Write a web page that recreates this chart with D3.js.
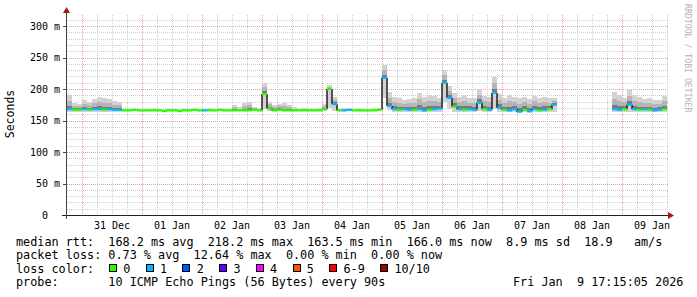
<!DOCTYPE html>
<html>
<head>
<meta charset="utf-8">
<style>
  body { margin: 0; background: #fff; }
  svg text { font-family: "DejaVu Sans Mono", monospace; white-space: pre; }
</style>
</head>
<body>
<svg id="chart" width="697" height="297"></svg>
<script src="https://cdn.jsdelivr.net/npm/d3@7"></script>
<script>
  // one value per 2 hour bucket, first bucket starts 30 Dec 18:00
  var start = new Date(2025, 11, 30, 18);
  var end = new Date(2026, 0, 9, 18);

  // median rtt (ms)
  var median = [
    168, 167, 167, 168, 167, 168, 168, 167, 168, 167,
    167, 166, 166, 167, 166, 166, 166, 166, 166, 165,
    166, 166, 165, 166, 166, 167, 166, 166, 166, 166,
    167, 166, 166, 166, 166, 166, 166, 167, 166, 192,
    169, 166, 167, 166, 166, 166, 166, 166, 166, 166,
    166, 168, 200, 176, 166, 166, 167, 166, 166, 166,
    166, 166, 167, 218, 173, 168, 167, 168, 167, 167,
    168, 166, 167, 168, 169, 210, 186, 172, 168, 167,
    168, 167, 178, 168, 167, 194, 170, 167, 166, 168,
    164, 167, 165, 168, 166, 167, 168, 175, null, null,
    null, null, null, null, null, null, null, null, null, 168,
    167, 168, 175, 168, 167, 168, 167, 166, 167, 168
  ];

  // highest ping of the bucket (top of the smoke)
  var high = [
    190, 178, 176, 182, 180, 184, 187, 186, 184, 181,
    180, 169, 168, 169, 168, 168, 168, 169, 168, 168,
    169, 168, 168, 169, 168, 168, 168, 168, 170, 168,
    168, 169, 168, 175, 171, 178, 180, 172, 170, 210,
    180, 174, 177, 178, 175, 171, 169, 170, 169, 169,
    170, 176, 206, 188, 169, 170, 169, 168, 169, 168,
    168, 169, 170, 238, 195, 188, 186, 183, 184, 185,
    194, 188, 190, 189, 186, 230, 205, 194, 188, 190,
    185, 186, 200, 189, 187, 219, 192, 186, 190, 187,
    185, 188, 184, 189, 186, 188, 185, 186, null, null,
    null, null, null, null, null, null, null, null, null, 196,
    190, 186, 199, 190, 187, 184, 186, 182, 183, 189
  ];

  // lowest ping of the bucket
  var low = [
    164, 164, 163, 164, 164, 163, 163, 163, 164, 163,
    164, 165, 165, 165, 165, 165, 165, 165, 165, 165,
    165, 165, 165, 165, 165, 165, 165, 165, 165, 165,
    165, 165, 165, 165, 165, 165, 165, 165, 165, 168,
    165, 165, 165, 165, 165, 165, 165, 165, 165, 165,
    165, 165, 170, 165, 165, 165, 165, 165, 165, 165,
    165, 165, 165, 185, 166, 163, 163, 163, 163, 163,
    163, 163, 163, 163, 163, 180, 168, 164, 163, 163,
    163, 163, 165, 163, 163, 170, 164, 163, 163, 163,
    163, 163, 162, 163, 163, 163, 163, 164, null, null,
    null, null, null, null, null, null, null, null, null, 163,
    163, 163, 163, 163, 163, 163, 163, 163, 163, 163
  ];

  // lost pings out of 10
  var loss = [
    1, 0, 0, 1, 0, 1, 1, 0, 1, 1,
    1, 0, 0, 0, 0, 0, 0, 0, 0, 0,
    0, 0, 0, 0, 0, 0, 0, 1, 0, 0,
    0, 0, 0, 0, 0, 0, 0, 0, 0, 0,
    0, 0, 0, 0, 0, 0, 0, 0, 0, 0,
    0, 0, 0, 1, 0, 1, 1, 0, 0, 0,
    0, 0, 0, 1, 1, 1, 0, 1, 1, 0,
    1, 1, 0, 1, 1, 1, 1, 0, 1, 0,
    1, 1, 1, 0, 1, 1, 1, 0, 1, 1,
    1, 0, 1, 1, 0, 1, 0, 1, null, null,
    null, null, null, null, null, null, null, null, null, 1,
    1, 0, 1, 1, 0, 1, 0, 1, 1, 0
  ];

  var yTicks = [0, 50, 100, 150, 200, 250, 300];
  var lossLabels = ["0", "1", "2", "3", "4", "5", "6-9", "10/10"];
  var lossColors = ["#26ff00", "#00b8ff", "#0059ff", "#5e00ff", "#ff00ff", "#ff5500", "#ff0000", "#a10000"];
  var rttLine = "median rtt:  168.2 ms avg  218.2 ms max  163.5 ms min  166.0 ms now  8.9 ms sd  18.9   am/s";
  var lossLine = "packet loss: 0.73 % avg  12.64 % max  0.00 % min  0.00 % now";
  var probeLine = "probe:       10 ICMP Echo Pings (56 Bytes) every 90s";
  var stamp = "Fri Jan  9 17:15:05 2026";

  var svg = d3.select("#chart");
  var x = d3.scaleTime().domain([start, end]).range([67, 667]);
  var y = d3.scaleLinear().domain([0, 317.5]).range([215, 15]);
  function px(v) { return Math.round(v) + 0.5; }

  var minorCol = "#cfcfcf", majorCol = "#e7a3a3";

  // grid
  var grid = svg.append("g").attr("shape-rendering", "crispEdges").attr("stroke-dasharray", "1,1");
  var sixHours = d3.timeHour.every(6).range(start, new Date(+end + 1)).filter(function(d) { return +d !== +start; });
  grid.selectAll("line.v")
    .data(sixHours)
    .enter().append("line")
    .attr("x1", function(d) { return px(x(d)); })
    .attr("x2", function(d) { return px(x(d)); })
    .attr("y1", y.range()[1]).attr("y2", 215)
    .attr("stroke", function(d) { return d.getHours() === 0 ? majorCol : minorCol; });
  grid.selectAll("line.h")
    .data(d3.range(10, 317, 10))
    .enter().append("line")
    .attr("x1", 67).attr("x2", 668)
    .attr("y1", function(d) { return px(y(d)); })
    .attr("y2", function(d) { return px(y(d)); })
    .attr("stroke", function(d) { return d % 50 === 0 ? majorCol : minorCol; });

  // smoke, lighter far from the median
  var buckets = median.map(function(m, i) {
    return { t0: d3.timeHour.offset(start, 2 * i), t1: d3.timeHour.offset(start, 2 * i + 2),
             med: m, hi: high[i], lo: low[i], loss: loss[i] };
  }).filter(function(d) { return d.med !== null; });

  // [share of the spread above the median, colour, starts at low ping?]
  var bands = [[1, "#d2d2d2", true], [0.6, "#b4b4b4", false], [0.25, "#7a7a7a", false]];
  var smoke = svg.append("g").attr("shape-rendering", "crispEdges");
  bands.forEach(function(b) {
    smoke.append("g").selectAll("rect")
      .data(buckets)
      .enter().append("rect")
      .attr("x", function(d) { return Math.round(x(d.t0)); })
      .attr("width", function(d) { return Math.round(x(d.t1)) - Math.round(x(d.t0)); })
      .attr("y", function(d) { return Math.round(y(d.med + b[0] * (d.hi - d.med))); })
      .attr("height", function(d) {
        var bottom = b[2] ? d.lo : d.med;
        return Math.max(0, Math.round(y(bottom)) - Math.round(y(d.med + b[0] * (d.hi - d.med))));
      })
      .attr("fill", b[1]);
  });

  // median, coloured by loss
  function lossIndex(n) { return n <= 5 ? n : (n < 10 ? 6 : 7); }
  var medG = svg.append("g").attr("fill", "none");
  buckets.forEach(function(d, k) {
    var nxt = buckets[k + 1];
    if (nxt && +nxt.t0 === +d.t1 && Math.abs(nxt.med - d.med) > 2) {
      medG.append("line")
        .attr("x1", x(d.t1)).attr("x2", x(d.t1))
        .attr("y1", y(d.med)).attr("y2", y(nxt.med))
        .attr("stroke", "#222").attr("stroke-width", 1.5);
    }
  });
  medG.selectAll("line.m")
    .data(buckets)
    .enter().append("line")
    .attr("x1", function(d) { return x(d.t0); })
    .attr("x2", function(d) { return x(d.t1); })
    .attr("y1", function(d) { return y(d.med); })
    .attr("y2", function(d) { return y(d.med); })
    .attr("stroke", function(d) { return lossColors[lossIndex(d.loss)]; })
    .attr("stroke-width", 2.2);

  // axes
  var axes = svg.append("g").attr("shape-rendering", "crispEdges");
  axes.append("line").attr("x1", 62).attr("x2", 669).attr("y1", 215.5).attr("y2", 215.5).attr("stroke", "#222");
  axes.append("line").attr("x1", 66.5).attr("x2", 66.5).attr("y1", 219).attr("y2", 12).attr("stroke", "#444");
  axes.selectAll("line.yt")
    .data(yTicks.slice(1))
    .enter().append("line")
    .attr("x1", 63).attr("x2", 66)
    .attr("y1", function(d) { return px(y(d)); })
    .attr("y2", function(d) { return px(y(d)); })
    .attr("stroke", "#444");
  svg.append("path").attr("d", "M668,212 L674,215.5 L668,219 Z").attr("fill", "#9c1c1c");
  svg.append("path").attr("d", "M63,13 L66.5,7 L70,13 Z").attr("fill", "#9c1c1c");

  // tick labels
  svg.append("g").selectAll("text")
    .data(yTicks)
    .enter().append("text")
    .attr("x", 60)
    .attr("y", function(d) { return y(d); })
    .attr("dy", "0.36em")
    .attr("text-anchor", "end")
    .style("font-size", "10px")
    .text(function(d) { return d === 0 ? "0  " : d + " m"; });

  var fmt = d3.timeFormat("%d %b");
  svg.append("g").selectAll("text")
    .data(d3.timeDay.range(new Date(2025, 11, 31), new Date(2026, 0, 10)))
    .enter().append("text")
    .attr("x", function(d) { return x(d3.timeHour.offset(d, 12)); })
    .attr("y", 228.5)
    .attr("text-anchor", "middle")
    .style("font-size", "10px")
    .text(function(d) { return fmt(d); });

  svg.append("text")
    .attr("transform", "translate(14,114) rotate(-90)")
    .attr("text-anchor", "middle")
    .style("font-size", "11.5px")
    .text("Seconds");

  svg.append("text")
    .attr("transform", "translate(685,4) rotate(90)")
    .style("font-size", "8.2px")
    .attr("fill", "#b4b4b4")
    .text("RRDTOOL / TOBI OETIKER");

  // legend
  var lg = svg.append("g").style("font-size", "11.8px");
  lg.append("text").attr("x", 16).attr("y", 245.5).text(rttLine);
  lg.append("text").attr("x", 16).attr("y", 259).text(lossLine);
  lg.append("text").attr("x", 16).attr("y", 272.5).text("loss color:");
  lg.append("text").attr("x", 16).attr("y", 286).text(probeLine);
  lg.append("text").attr("x", 513).attr("y", 286).text(stamp);

  var bx = 109;
  lossLabels.forEach(function(lab, i) {
    lg.append("rect")
      .attr("x", bx + 0.5).attr("y", 264.5).attr("width", 7).attr("height", 7)
      .attr("fill", lossColors[i]).attr("stroke", "#000").attr("shape-rendering", "crispEdges");
    lg.append("text").attr("x", bx + 14.3).attr("y", 272.5).text(lab);
    bx += 29.6 + 7.1 * lab.length;
  });
</script>
</body>
</html>
